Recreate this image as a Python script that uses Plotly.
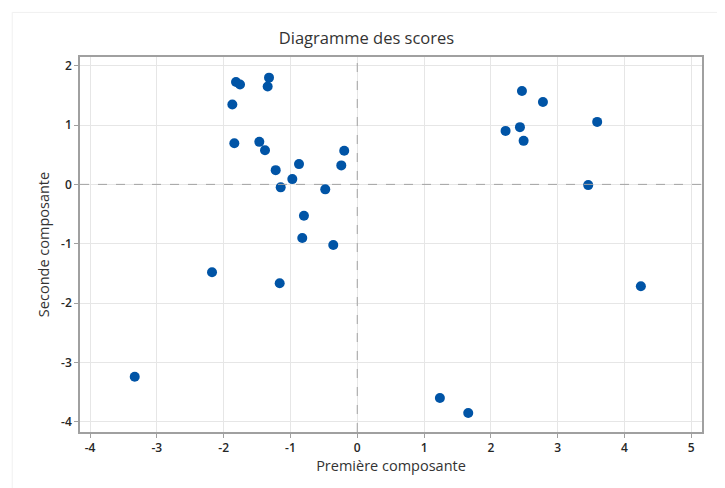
import plotly.graph_objects as go

x_vals = [-1.815, -1.755, -1.321, -1.341, -1.870, -1.840, -1.466, -1.381, -1.221, -1.146,
          -0.972, -0.872, -0.195, -0.239, -0.479, -0.798, -0.823, -0.359, -2.174, -1.161,
          -3.331, 2.465, 2.779, 3.591, 2.435, 2.220, 2.490, 3.457, 4.245, 1.237, 1.661]
y_vals = [1.727, 1.683, 1.800, 1.650, 1.347, 0.695, 0.717, 0.577, 0.240, -0.050,
          0.089, 0.342, 0.566, 0.320, -0.084, -0.528, -0.904, -1.022, -1.482, -1.667,
          -3.244, 1.576, 1.390, 1.054, 0.965, 0.902, 0.734, -0.012, -1.717, -3.603, -3.855]

x_ticks = [-4, -3, -2, -1, 0, 1, 2, 3, 4, 5]
y_ticks = [-4, -3, -2, -1, 0, 1, 2]

FONT = "Open Sans"

fig = go.Figure()
fig.add_trace(go.Scatter(
    x=x_vals, y=y_vals, mode="markers",
    marker=dict(color="#0054a6", size=10, line=dict(width=0)),
    showlegend=False,
))

fig.add_hline(y=0, line=dict(color="#a3a3a3", width=1, dash="dash"), layer="above")
fig.add_vline(x=0, line=dict(color="#a3a3a3", width=1, dash="dash"), layer="above")

axis_common = dict(
    showgrid=True, gridcolor="#e6e6e6", gridwidth=1,
    zeroline=False, automargin=True,
    showline=True, linecolor="#a0a0a0", linewidth=1.5, mirror=True,
    ticks="outside", ticklen=4, tickcolor="#a0a0a0", tickwidth=1,
    tickfont=dict(family=FONT, size=12, color="#262626", weight=600),
)

fig.update_xaxes(
    range=[-4.15, 5.16], tickvals=x_ticks, ticktext=[str(v) for v in x_ticks],
    title=dict(text="Première composante", font=dict(family=FONT, size=14.5, color="#333333"), standoff=6),
    **axis_common,
)
fig.update_yaxes(
    range=[-4.175, 2.148], tickvals=y_ticks, ticktext=[str(v) for v in y_ticks],
    title=dict(text="Seconde composante", font=dict(family=FONT, size=14.5, color="#333333"), standoff=8),
    **axis_common,
)

fig.add_shape(type="rect", xref="paper", yref="paper",
              x0=-0.109, x1=1.2, y0=-0.3, y1=1.119,
              line=dict(color="#f0f0f0", width=1), fillcolor="rgba(0,0,0,0)", layer="below")

fig.update_layout(
    width=717, height=480,
    margin=dict(l=72, r=23, t=49, b=56, autoexpand=False),
    paper_bgcolor="white", plot_bgcolor="white",
    title=dict(text="Diagramme des scores", x=0.5, xanchor="center", y=1 - 30 / 480, yanchor="middle",
               font=dict(family=FONT, size=16.5, color="#333333")),
    font=dict(family=FONT),
)

fig.write_html("out.html")
